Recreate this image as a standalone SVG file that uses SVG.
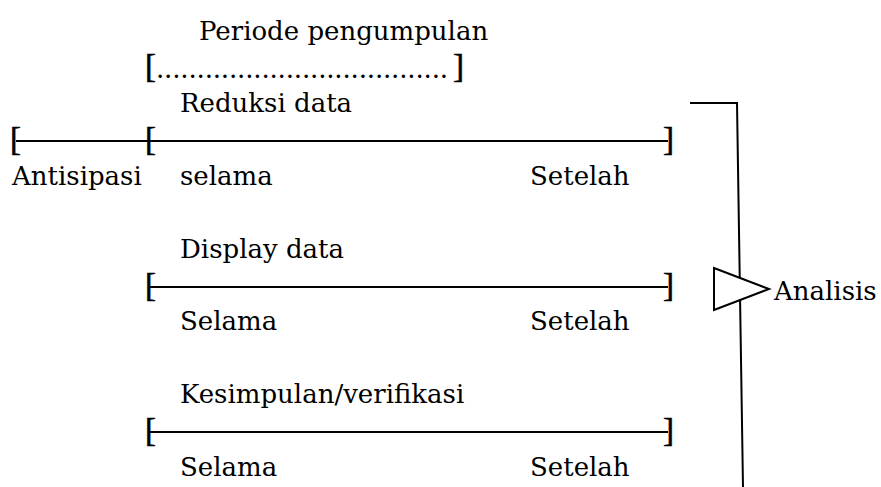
<svg xmlns="http://www.w3.org/2000/svg" width="881" height="487" viewBox="0 0 881 487">
<style>
text{font-family:"DejaVu Serif","Liberation Serif",serif;font-size:26px;fill:#000}
text.br{font-family:"Liberation Serif","Times New Roman",serif;font-size:33px;stroke:#000;stroke-width:0.6}
.ln{stroke:#000;stroke-width:2;fill:none}
</style>
<rect width="881" height="487" fill="#fff"/>
<g id="periode">
<text x="199" y="40">Periode pengumpulan</text>
<text class="br" x="145" y="77">[</text>
<text x="156" y="78" textLength="292" lengthAdjust="spacing">....................................</text>
<text class="br" x="464" y="77" text-anchor="end">]</text>
</g>
<g id="connectors">
<line class="ln" x1="16" y1="141" x2="668" y2="141"/>
<line class="ln" x1="150" y1="287" x2="668" y2="287"/>
<line class="ln" x1="150" y1="432" x2="668" y2="432"/>
<polyline class="ln" points="690,103 737,103 743,487"/>
</g>
<g id="reduksi">
<text x="180" y="112">Reduksi data</text>
<text class="br" x="10" y="150">[</text>
<text class="br" x="145" y="150">[</text>
<text class="br" x="674" y="150" text-anchor="end">]</text>
<text x="12" y="185">Antisipasi</text>
<text x="180" y="185">selama</text>
<text x="530" y="185">Setelah</text>
</g>
<g id="display">
<text x="180" y="258">Display data</text>
<text class="br" x="145" y="296">[</text>
<text class="br" x="674" y="296" text-anchor="end">]</text>
<text x="180" y="330">Selama</text>
<text x="530" y="330">Setelah</text>
</g>
<g id="kesimpulan">
<text x="180" y="403">Kesimpulan/verifikasi</text>
<text class="br" x="145" y="441">[</text>
<text class="br" x="674" y="441" text-anchor="end">]</text>
<text x="180" y="476">Selama</text>
<text x="530" y="476">Setelah</text>
</g>
<g id="analisis">
<polygon points="714,268 769,289 714,310" fill="#fff" stroke="#000" stroke-width="2"/>
<text x="774" y="300">Analisis</text>
</g>
</svg>
